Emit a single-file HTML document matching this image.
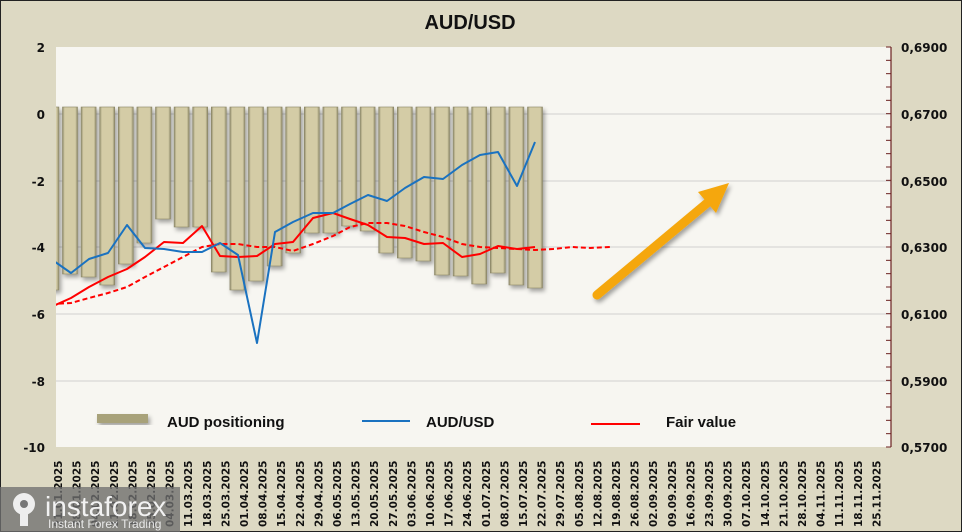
<!DOCTYPE html>
<html><head><meta charset="utf-8"><style>
html,body{margin:0;padding:0;width:962px;height:532px;overflow:hidden;background:#ddd9c3}
svg{display:block}
.yl{font:bold 12px "DejaVu Sans","Liberation Sans",sans-serif;fill:#111}
.xl{font:bold 10.5px "DejaVu Sans","Liberation Sans",sans-serif;fill:#111}
</style></head><body>
<svg width="962" height="532" viewBox="0 0 962 532" xmlns="http://www.w3.org/2000/svg">
<defs>
<linearGradient id="bg" x1="0" x2="1" y1="0" y2="0">
<stop offset="0" stop-color="#8e8a6a"/><stop offset="0.15" stop-color="#d4cca6"/><stop offset="0.85" stop-color="#d4cca6"/><stop offset="1" stop-color="#8e8a6a"/>
</linearGradient>
<clipPath id="pc"><rect x="56" y="47" width="835" height="400"/></clipPath>
<filter id="sh" x="-20%" y="-20%" width="140%" height="140%"><feDropShadow dx="2" dy="3" stdDeviation="2" flood-color="#000" flood-opacity="0.35"/></filter>
</defs>
<rect x="0" y="0" width="962" height="532" fill="#ddd9c3" stroke="#222" stroke-width="2"/>
<text x="470" y="29" text-anchor="middle" font-family="Liberation Sans Narrow,Liberation Sans,sans-serif" font-size="20" font-weight="bold" fill="#111">AUD/USD</text>
<rect x="56" y="47" width="835" height="400" fill="#f7f6f1"/>
<g stroke="#d0d0d0" stroke-width="1">
<line x1="56" x2="891" y1="114" y2="114"/><line x1="56" x2="891" y1="181" y2="181"/>
<line x1="56" x2="891" y1="247" y2="247"/><line x1="56" x2="891" y1="314" y2="314"/>
<line x1="56" x2="891" y1="381" y2="381"/>
</g>
<line x1="891" x2="891" y1="47" y2="447" stroke="#6b2020" stroke-width="1.2"/>
<g stroke="#6b2020" stroke-width="1" id="rt"></g>
<g class="yl" text-anchor="end">
<text x="45" y="52">2</text><text x="45" y="119">0</text><text x="45" y="186">-2</text>
<text x="45" y="252">-4</text><text x="45" y="319">-6</text><text x="45" y="386">-8</text><text x="45" y="452">-10</text>
</g>
<g class="yl">
<text x="901" y="52">0,6900</text><text x="901" y="119">0,6700</text><text x="901" y="186">0,6500</text>
<text x="901" y="252">0,6300</text><text x="901" y="319">0,6100</text><text x="901" y="386">0,5900</text><text x="901" y="452">0,5700</text>
</g>
<g id="bars" clip-path="url(#pc)" filter="url(#sh)"></g>
<g clip-path="url(#pc)" fill="none" stroke-linejoin="round">
<polyline stroke="#ff0000" stroke-width="2" stroke-dasharray="5,3" points="51,304 71,303 89,298 108,293 127,287 145,277 164,267 183,257 202,247 220,244 238,244 257,247 275,247 293,251 313,244 333,236 350,227 368,223 387,223 405,226 424,232 443,237 462,244 480,247 498,248 517,249 535,250 553,249 572,247 590,248 610,247"/>
<polyline stroke="#ff0000" stroke-width="2" points="51,307 71,298 89,287 108,277 127,269 145,257 164,242 183,243 202,226 220,256 238,257 257,256 275,244 293,242 313,218 333,213 350,219 368,225 387,237 405,238 424,244 443,243 462,257 480,254 498,246 517,249 535,247"/>
<polyline stroke="#1a72c0" stroke-width="2" points="51,259 71,273 89,259 108,253 127,225 145,248 164,249 183,252 202,252 220,243 238,255 257,343 275,232 293,222 313,213 333,213 350,204 368,195 387,201 405,188 424,177 443,179 462,165 480,155 498,152 517,186 535,142"/>
</g>
<g filter="url(#sh)">
<line x1="597" y1="295" x2="712" y2="199" stroke="#f5a70a" stroke-width="9" stroke-linecap="round"/>
<polygon points="729,183 698,192 716,213" fill="#f5a70a"/>
</g>
<rect x="97" y="414" width="51" height="9" fill="#a8a27a" filter="url(#sh)"/>
<g font-family="Liberation Sans,sans-serif" font-weight="bold" font-size="15" fill="#111">
<text x="167" y="427">AUD positioning</text>
<text x="426" y="427">AUD/USD</text>
<text x="666" y="427">Fair value</text>
</g>
<line x1="362" x2="410" y1="421" y2="421" stroke="#1a72c0" stroke-width="2"/>
<line x1="591" x2="640" y1="424" y2="424" stroke="#ff0000" stroke-width="2"/>
<g id="xl" class="xl"></g>
<g>
<rect x="0" y="487" width="180" height="45" fill="#6f6f6f" opacity="0.78"/>
<circle cx="24" cy="504" r="11" fill="#eee"/>
<circle cx="24" cy="504" r="4" fill="#777"/>
<rect x="20" y="510" width="8" height="16" fill="#eee"/>
<text x="45" y="516" font-family="Liberation Sans,sans-serif" font-size="28" fill="#f2f2f2">instaforex</text>
<text x="48" y="528" font-family="Liberation Sans,sans-serif" font-size="12" fill="#e8e8e8">Instant Forex Trading</text>
</g>
</svg>
<script>
var ns="http://www.w3.org/2000/svg";
var b=[290,274,277,285,264,243,219,227,227,272,290,281,266,253,233,233,226,231,253,258,261,275,276,284,273,285,288];
var g=document.getElementById("bars");
b.forEach(function(y,i){var c=51.4+i*18.6;var r=document.createElementNS(ns,"rect");
r.setAttribute("x",c-7.5);r.setAttribute("y",107);r.setAttribute("width",15);r.setAttribute("height",y-107);
r.setAttribute("fill","url(#bg)");r.setAttribute("stroke","#8a8566");r.setAttribute("stroke-width","0.6");g.appendChild(r);});
var rt=document.getElementById("rt");
for(var k=0;k<=30;k++){var y=47+k*400/30;var l=document.createElementNS(ns,"line");l.setAttribute("x1",886);l.setAttribute("x2",891);l.setAttribute("y1",y);l.setAttribute("y2",y);rt.appendChild(l);}
var xl=document.getElementById("xl");var d=new Date(2025,0,21);
for(var i=0;i<45;i++){var dt=new Date(d.getTime()+i*7*864e5);
var s=("0"+dt.getDate()).slice(-2)+"."+("0"+(dt.getMonth()+1)).slice(-2)+"."+dt.getFullYear();
var x=58+i*18.6+4;var t=document.createElementNS(ns,"text");t.setAttribute("transform","translate("+x+",527) rotate(-90)");t.textContent=s;xl.appendChild(t);}
</script>
</body></html>
